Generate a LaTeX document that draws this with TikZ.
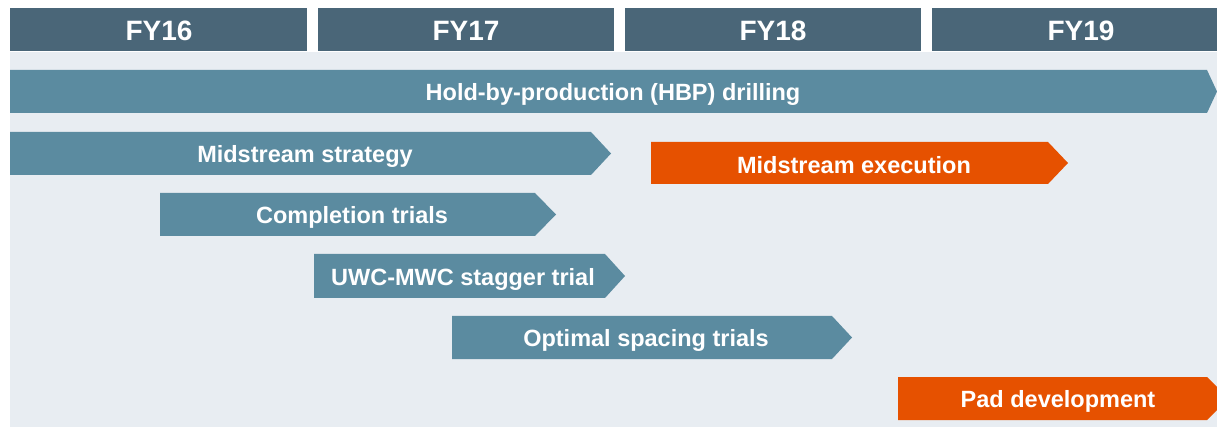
\documentclass[tikz,border=0pt]{standalone}
\usepackage{fontspec}
\setmainfont{Liberation Sans}
\definecolor{hdr}{HTML}{4A6678}
\definecolor{bar}{HTML}{5B8BA0}
\definecolor{org}{HTML}{E65100}
\definecolor{bg}{HTML}{E8EDF2}
\begin{document}
\begin{tikzpicture}[x=1pt,y=-1pt,
  hdrlbl/.style={text=white,font=\bfseries\fontsize{28}{32}\selectfont,inner sep=0},
  lbl/.style={text=white,font=\bfseries\fontsize{23.5}{28}\selectfont,inner sep=0,yshift=-2.5pt}]
\useasboundingbox (0,0) rectangle (1217,427);
\fill[bg] (10,52) rectangle (1217,427);
% headers
\fill[hdr] (10,8) rectangle (307,51);
\fill[hdr] (318,8) rectangle (614,51);
\fill[hdr] (625,8) rectangle (921,51);
\fill[hdr] (932,8) rectangle (1217,51);
\node[hdrlbl] (fy16) at (159,31) {FY16};
\node[hdrlbl] (fy17) at (466,31) {FY17};
\node[hdrlbl] (fy18) at (773,31) {FY18};
\node[hdrlbl] (fy19) at (1081,31) {FY19};
% HBP
\fill[bar] (10,70) -- (1207,70) -- (1217,91.5) -- (1207,113) -- (10,113) -- cycle;
\node[lbl] (hbp) at (613,92) {Hold-by-production (HBP) drilling};
% Midstream strategy
\fill[bar] (10,132) -- (591,132) -- (611,153.5) -- (591,175) -- (10,175) -- cycle;
\node[lbl] (ms) at (305,154) {Midstream strategy};
% Midstream execution
\fill[org] (651,142) -- (1048,142) -- (1068,163) -- (1048,184) -- (651,184) -- cycle;
\node[lbl] (me) at (854,163) {Midstream execution};
% Completion trials
\fill[bar] (160,193) -- (535,193) -- (556,214.5) -- (535,236) -- (160,236) -- cycle;
\node[lbl] (ct) at (352,215) {Completion trials};
% UWC-MWC
\fill[bar] (314,254) -- (605,254) -- (625,276) -- (605,298) -- (314,298) -- cycle;
\node[lbl] (uwc) at (463,277) {UWC-MWC stagger trial};
% Optimal spacing
\fill[bar] (452,316) -- (832,316) -- (852,337.5) -- (832,359) -- (452,359) -- cycle;
\node[lbl] (os) at (646,338) {Optimal spacing trials};
% Pad development
\fill[org] (898,377) -- (1207,377) -- (1217,387) -- (1217,410) -- (1207,420) -- (898,420) -- cycle;
\node[lbl] (pad) at (1058,399) {Pad development};
\end{tikzpicture}
\end{document}
